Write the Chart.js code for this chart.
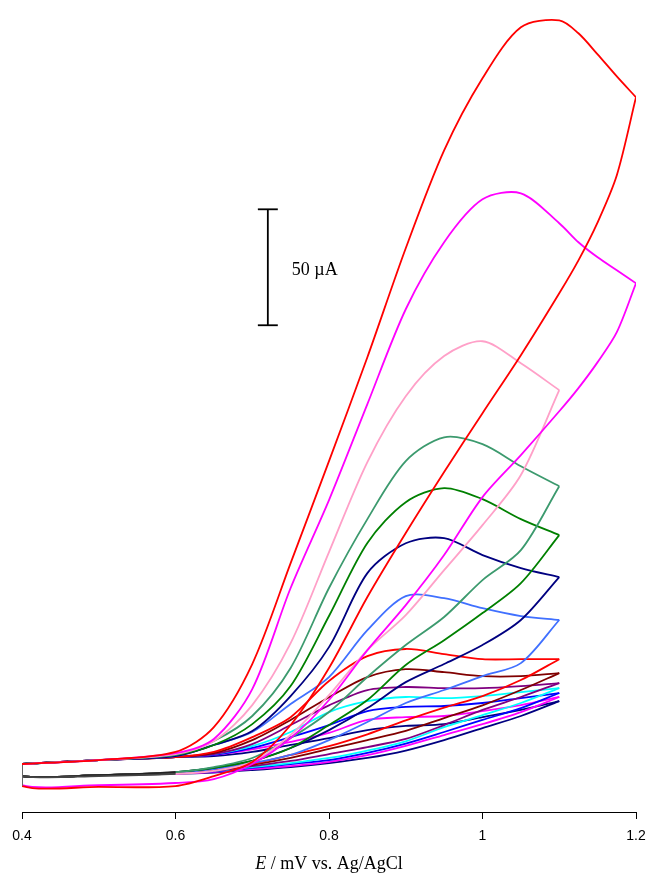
<!DOCTYPE html>
<html>
<head>
<meta charset="utf-8">
<script src="https://cdn.jsdelivr.net/npm/chart.js@4.4.0/dist/chart.umd.min.js"></script>
<style>
  html, body { margin: 0; padding: 0; background: #fff; }
</style>
</head>
<body>
<canvas id="cv" width="648" height="876"></canvas>
<script>
// potential grid (V); the two big loops go to 1.2 V, the others stop at 1.1 V
const potentials = [0.4, 0.5, 0.6, 0.65, 0.7, 0.75, 0.8, 0.85, 0.9, 0.95, 1.0, 1.05, 1.1, 1.125, 1.15, 1.175, 1.2];

// forward scans, current in µA (arbitrary zero)
const fwdRedBig     = [20.7, 22.4, 25.9, 36.6, 63.8, 107.3, 151.3, 196.1, 243.1, 285.3, 316.4, 338.4, 341.4, 335.8, 326.7, 317.2, 308.2];
const fwdMagentaBig = [20.7, 22.4, 25.4, 31.5, 53.0, 96.6, 134.5, 175.9, 216.8, 245.7, 264.2, 266.8, 253.9, 245.7, 239.2, 233.6, 228.0];
const fwdPink       = [20.7, 22.4, 25.0, 30.6, 46.1, 72.8, 112.1, 150.9, 179.3, 196.6, 203.0, 193.5, 181.9];
const fwdSeaGreen   = [20.7, 22.4, 24.6, 30.6, 41.4, 62.1, 96.6, 126.3, 151.3, 161.6, 158.6, 149.1, 140.5];
const fwdGreen      = [20.7, 22.4, 24.6, 28.9, 37.9, 54.3, 84.5, 116.0, 133.6, 139.7, 134.9, 126.3, 119.4];
const fwdNavy       = [20.7, 22.4, 24.1, 28.9, 34.9, 50.0, 71.1, 103.0, 115.9, 118.1, 110.8, 105.2, 101.3];
const fwdCornflower = [20.7, 22.4, 24.1, 28.9, 34.5, 46.6, 58.2, 78.4, 93.1, 92.2, 87.9, 84.5, 82.8];
const fwdRedSmall   = [20.7, 22.4, 23.7, 25.9, 32.3, 40.9, 56.5, 67.2, 70.3, 68.1, 65.9, 65.9, 65.9];
const fwdBrown      = [20.7, 22.4, 23.7, 25.4, 31.0, 39.7, 49.5, 58.2, 61.6, 60.3, 58.6, 58.6, 59.9];
const fwdPurple     = [20.7, 22.4, 23.7, 25.0, 29.3, 37.5, 46.0, 52.6, 53.9, 53.4, 53.4, 54.3, 55.6];
const fwdCyan       = [20.7, 22.4, 23.7, 25.0, 28.4, 34.5, 43.1, 47.8, 49.6, 49.1, 50.0, 51.7, 53.4];
const fwdBlue       = [20.7, 22.4, 23.7, 24.6, 27.6, 32.3, 37.5, 43.5, 45.3, 45.7, 47.0, 49.1, 51.3];
const fwdMagenta    = [20.7, 22.4, 23.7, 24.6, 27.0, 30.2, 34.1, 39.7, 40.9, 41.4, 43.5, 46.1, 49.6];
const fwdNavySmall  = [20.7, 22.4, 23.7, 24.1, 25.9, 28.9, 31.9, 35.3, 37.1, 37.9, 40.9, 44.0, 47.8];

// reverse scans, from the vertex back down to 0.4 V
const revRedBig     = [308.2, 274.6, 254.3, 237.9, 223.7, 197.0, 172.0, 146.6, 120.3, 92.7, 62.1, 37.5, 21.6, 15.5, 11.2, 10.8, 11.2];
const revMagentaBig = [228.0, 206.9, 194.0, 182.8, 172.8, 153.9, 135.8, 110.8, 89.2, 69.8, 48.3, 31.9, 20.7, 14.2, 12.5, 11.6, 11.6];
const revPink       = [181.9, 145.3, 123.7, 104.3, 84.9, 69.8, 50.4, 33.2, 21.6, 17.7, 16.4, 15.5, 15.5];
const revSeaGreen   = [140.5, 112.9, 100.0, 84.1, 72.0, 58.2, 43.1, 31.9, 23.3, 19.4, 17.2, 15.9, 15.5];
const revGreen      = [119.4, 98.7, 85.8, 74.1, 63.4, 48.3, 37.5, 27.6, 22.0, 19.0, 17.2, 15.9, 15.5];
const revNavy       = [101.3, 82.8, 72.0, 63.8, 56.0, 44.8, 35.3, 27.6, 22.0, 19.0, 17.2, 15.9, 15.5];
const revCornflower = [82.8, 64.2, 58.6, 52.6, 47.0, 38.8, 31.0, 24.6, 21.1, 18.5, 16.8, 15.9, 15.5];
const revRedSmall   = [65.9, 56.9, 50.0, 45.0, 39.5, 33.5, 28.4, 24.6, 20.7, 18.1, 16.8, 15.9, 15.5];
const revBrown      = [59.9, 52.6, 46.0, 40.5, 35.0, 31.0, 27.2, 23.3, 20.3, 18.1, 16.8, 15.9, 15.5];
const revPurple     = [55.6, 49.6, 44.0, 37.5, 31.5, 28.0, 25.0, 22.0, 19.8, 17.7, 16.8, 15.9, 15.5];
const revCyan       = [53.4, 47.0, 41.8, 36.6, 30.5, 26.5, 23.3, 21.1, 19.4, 17.7, 16.8, 15.9, 15.5];
const revBlue       = [51.3, 44.8, 39.7, 34.5, 29.5, 25.5, 22.4, 20.7, 19.0, 17.5, 16.8, 15.9, 15.5];
const revMagenta    = [49.6, 43.1, 37.9, 33.2, 28.5, 24.5, 21.6, 19.8, 18.5, 17.3, 16.5, 15.9, 15.5];
const revNavySmall  = [47.8, 41.4, 36.2, 31.0, 26.5, 23.3, 21.1, 19.4, 18.1, 17.0, 16.4, 15.9, 15.5];

const xTicks = [0.4, 0.6, 0.8, 1.0, 1.2];

// 50 µA scale bar
const barE = 0.7203;
const barRange = [209.9, 259.9];
const barLabel = "50 µA";

const curves = [
  { color: "#ff0000", fwd: fwdRedBig, rev: revRedBig, grey: null },
  { color: "#ff00ff", fwd: fwdMagentaBig, rev: revMagentaBig, grey: null },
  { color: "#ffa0c8", fwd: fwdPink, rev: revPink, grey: "#444444" },
  { color: "#3c9a6e", fwd: fwdSeaGreen, rev: revSeaGreen, grey: "#222222" },
  { color: "#008000", fwd: fwdGreen, rev: revGreen, grey: "#555555" },
  { color: "#000080", fwd: fwdNavy, rev: revNavy, grey: "#333333" },
  { color: "#4070ff", fwd: fwdCornflower, rev: revCornflower, grey: "#777777" },
  { color: "#ff0000", fwd: fwdRedSmall, rev: revRedSmall, grey: "#111111" },
  { color: "#800000", fwd: fwdBrown, rev: revBrown, grey: "#666666" },
  { color: "#800080", fwd: fwdPurple, rev: revPurple, grey: "#888888" },
  { color: "#00ffff", fwd: fwdCyan, rev: revCyan, grey: "#999999" },
  { color: "#0000ff", fwd: fwdBlue, rev: revBlue, grey: "#444444" },
  { color: "#ff00ff", fwd: fwdMagenta, rev: revMagenta, grey: "#aaaaaa" },
  { color: "#000080", fwd: fwdNavySmall, rev: revNavySmall, grey: "#2a2a2a" }
];

const datasets = [];
curves.forEach((c) => {
  const fwdPts = c.fwd.map((v, i) => ({ x: potentials[i], y: v }));
  const revE = potentials.slice(0, c.rev.length).reverse();
  const revPts = c.rev.map((v, i) => ({ x: revE[i], y: v }));
  revPts.push({ x: potentials[0], y: c.fwd[0] }); // closes the loop at 0.4 V
  datasets.push({ data: fwdPts, borderColor: c.color });
  datasets.push({
    data: revPts,
    borderColor: c.color,
    segment: {
      borderColor: (ctx) => {
        if (ctx.p0.parsed.x === ctx.p1.parsed.x) return "#666666";
        if (c.grey && ctx.p1.parsed.x <= 0.6 && ctx.p0.parsed.x <= 0.6) return c.grey;
        return undefined;
      }
    }
  });
});

// scale bar with caps
const capHalf = 0.013;
datasets.push({ data: [{ x: barE, y: barRange[0] }, { x: barE, y: barRange[1] }], borderColor: "#000", tension: 0 });
barRange.forEach((v) => {
  datasets.push({ data: [{ x: barE - capHalf, y: v }, { x: barE + capHalf, y: v }], borderColor: "#000", tension: 0 });
});

const labelsPlugin = {
  id: "labels",
  afterDraw(chart) {
    const ctx = chart.ctx;
    const xs = chart.scales.x;
    const ys = chart.scales.y;
    ctx.save();
    ctx.fillStyle = "#000";
    // scale bar text
    ctx.font = '18px "Liberation Serif", "Times New Roman", serif';
    ctx.textBaseline = "middle";
    ctx.textAlign = "left";
    ctx.fillText(barLabel, xs.getPixelForValue(barE) + 24, ys.getPixelForValue((barRange[0] + barRange[1]) / 2) + 3);
    // axis title with italic E
    const italic = 'italic 18px "Liberation Serif", "Times New Roman", serif';
    const normal = '18px "Liberation Serif", "Times New Roman", serif';
    const rest = " / mV vs. Ag/AgCl";
    ctx.font = italic;
    const wE = ctx.measureText("E").width;
    ctx.font = normal;
    const wR = ctx.measureText(rest).width;
    const cx = (chart.chartArea.left + chart.chartArea.right) / 2;
    const x0 = cx - (wE + wR) / 2;
    ctx.textBaseline = "alphabetic";
    ctx.font = italic;
    ctx.fillText("E", x0, 869);
    ctx.font = normal;
    ctx.fillText(rest, x0 + wE, 869);
    ctx.restore();
  }
};

new Chart(document.getElementById("cv"), {
  type: "line",
  data: { datasets: datasets },
  options: {
    responsive: false,
    animation: false,
    devicePixelRatio: 1,
    layout: { padding: { left: 22, right: 12, top: 5, bottom: 0 } },
    elements: {
      line: { borderWidth: 1.8, tension: 0.3, fill: false },
      point: { radius: 0 }
    },
    plugins: { legend: { display: false }, tooltip: { enabled: false } },
    scales: {
      x: {
        type: "linear",
        min: 0.4,
        max: 1.2,
        afterBuildTicks: (s) => { s.ticks = xTicks.map((v) => ({ value: v })); },
        afterFit: (s) => { s.height = 64; s.paddingLeft = 0; s.paddingRight = 0; },
        ticks: {
          color: "#000",
          padding: 9,
          maxRotation: 0,
          autoSkip: false,
          font: { family: '"Liberation Sans", Arial, sans-serif', size: 14 },
          callback: (v) => String(Math.round(v * 10) / 10)
        },
        grid: { display: true, drawOnChartArea: false, drawTicks: true, tickLength: 7, color: "#000", lineWidth: 1 },
        border: { display: true, color: "#000", width: 1 }
      },
      y: { display: false, min: 0, max: 348 }
    }
  },
  plugins: [labelsPlugin]
});
</script>
</body>
</html>
